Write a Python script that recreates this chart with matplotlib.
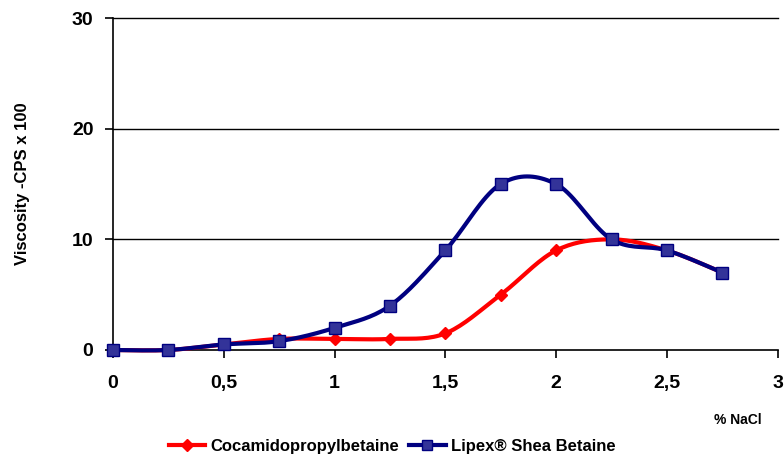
import numpy as np
import matplotlib.pyplot as plt
from matplotlib.lines import Line2D

plt.rcParams['font.family'] = ['Liberation Sans', 'DejaVu Sans']
plt.rcParams['font.weight'] = 'bold'
plt.rcParams['axes.labelweight'] = 'bold'

nacl = [0, 0.25, 0.5, 0.75, 1, 1.25, 1.5, 1.75, 2, 2.25, 2.5, 2.75]
cocamido = [0, 0, 0.5, 1, 1, 1, 1.5, 5, 9, 10, 9, 7]
lipex = [0, 0, 0.5, 0.8, 2, 4, 9, 15, 15, 10, 9, 7]

xticks = [0, 0.5, 1, 1.5, 2, 2.5, 3]
xticklabels = ['0', '0,5', '1', '1,5', '2', '2,5', '3']
yticks = [0, 10, 20, 30]


def smooth(x, y, n=20):
    # Catmull-Rom style smoothing like Excel's smoothed line
    x = np.asarray(x, float)
    y = np.asarray(y, float)
    px = np.concatenate([[x[0]], x, [x[-1]]])
    py = np.concatenate([[y[0]], y, [y[-1]]])
    xs, ys = [], []
    t = np.linspace(0, 1, n)
    for i in range(1, len(px) - 2):
        p0, p1, p2, p3 = (np.array([px[j], py[j]]) for j in range(i - 1, i + 3))
        c1 = p1 + (p2 - p0) / 6
        c2 = p2 - (p3 - p1) / 6
        for tt in t:
            b = ((1 - tt) ** 3) * p1 + 3 * ((1 - tt) ** 2) * tt * c1 + 3 * (1 - tt) * tt ** 2 * c2 + tt ** 3 * p2
            xs.append(b[0])
            ys.append(b[1])
    return xs, ys


fig = plt.figure(figsize=(7.84, 4.59), dpi=100)
ax = fig.add_axes([0.144, 0.2375, 0.848, 0.723])

red = '#ff0000'
navy = '#000080'

sx, sy = smooth(nacl, cocamido)
ax.plot(sx, sy, color=red, lw=3, zorder=3)
ax.plot(nacl, cocamido, 'D', color=red, ms=6, zorder=4)

sx, sy = smooth(nacl, lipex)
ax.plot(sx, sy, color=navy, lw=3, zorder=5)
ax.plot(nacl, lipex, 's', color='#333399', mec=navy, ms=8, zorder=6)

ax.set_xlim(0, 3)
ax.set_ylim(0, 30)
ax.set_xticks(xticks)
ax.set_xticklabels(xticklabels)
ax.set_yticks(yticks)
for v in yticks[1:]:
    ax.axhline(v, color='black', lw=1, zorder=1)
ax.spines['top'].set_visible(False)
ax.spines['right'].set_visible(False)
ax.spines['left'].set_linewidth(1.2)
ax.spines['bottom'].set_linewidth(1.2)
ax.tick_params(direction='out', length=6, width=1.2, labelsize=14)
ax.tick_params(axis='x', pad=12)
ax.tick_params(axis='y', pad=8)
ax.set_ylabel('Viscosity -CPS x 100', fontsize=12, fontweight='bold')
ax.yaxis.set_label_coords(-0.125, 0.5)
for ln in ax.lines:
    ln.set_clip_on(False)

fig.text(0.941, 0.085, '% NaCl', fontsize=10, ha='center', va='center')

handles = [Line2D([], [], color=red, lw=3, marker='D', ms=6),
           Line2D([], [], color=navy, lw=3, marker='s', mfc='#333399', ms=7)]
fig.legend(handles, ['Cocamidopropylbetaine', 'Lipex® Shea Betaine'],
           loc='center', bbox_to_anchor=(0.5, 0.027), ncol=2, frameon=False,
           fontsize=12, handlelength=2.2, columnspacing=0.6, handletextpad=0.3)

fig.savefig('out.png', dpi=100)
